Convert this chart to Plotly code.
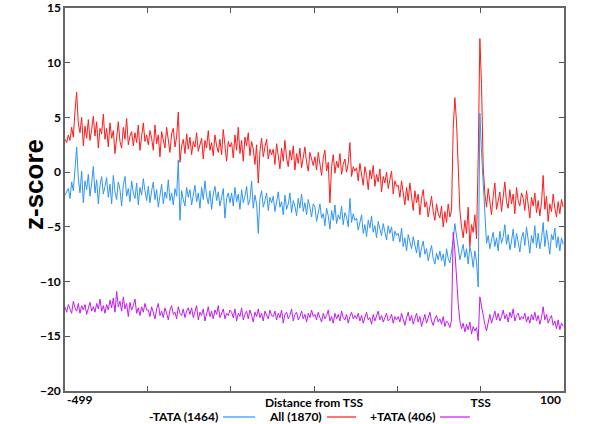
"""Z-score profile around the TSS for TATA / non-TATA promoters."""

import plotly.graph_objects as go

# Window start positions (step of 2 bp), -499 .. 99
positions = list(range(-499, 100, 2))

# All promoters (1870)
all_tss = [
    3.0, 2.7, 3.4, 2.9, 4.1, 3.2, 5.6, 7.3, 4.4, 3.6, 5.0, 2.4, 4.2, 3.1, 4.8, 2.9, 3.9, 5.1, 3.3, 4.6, 2.2, 4.0, 3.5, 5.3, 3.0,
    4.0, 2.3, 4.5, 3.1, 3.8, 1.7, 3.4, 4.6, 2.8, 2.2, 4.1, 3.0, 4.9, 2.5, 3.3, 3.7, 2.4, 3.6, 2.7, 4.3, 2.0, 3.1, 4.5, 2.8, 3.4,
    2.5, 3.8, 3.1, 2.0, 4.3, 2.6, 3.4, 1.4, 3.7, 2.9, 2.2, 4.1, 2.8, 1.8, 3.5, 4.0, 2.3, 3.2, 5.5, 0.9, 2.4, 3.0, 1.7, 3.5, 2.1,
    3.2, 1.6, 2.8, 2.3, 3.6, 1.9, 2.6, 3.1, 1.2, 2.9, 2.2, 3.8, 2.0, 2.7, 1.5, 3.4, 2.4, 1.8, 3.0, 1.6, 3.9, 2.1, 1.0, 2.8, 2.3,
    2.7, 1.3, 3.4, 2.0, 4.1, 1.7, 2.9, 1.0, 3.2, 2.4, 3.6, 1.5, 2.8, 2.1, 0.7, 2.5, -1.0, 1.9, 3.1, 1.4, 2.3, 3.0, 1.2, 2.1, 1.6,
    2.1, 0.7, 2.6, 1.5, 0.3, 2.2, 1.0, 2.9, 1.3, 0.5, 2.0, 1.1, 2.4, 0.2, 1.7, 0.8, 2.2, 0.4, 1.6, 2.3, 0.9, 0.1, 1.8, 1.2, 0.6,
    1.4, 0.2, 1.8, 0.6, -0.3, 1.3, 2.0, 0.1, 0.9, -2.8, 0.5, 1.6, -0.1, 1.0, 0.4, 1.7, -0.2, 0.7, 1.2, 0.0, 0.8, 2.7, -0.4, 0.5, 0.1,
    0.4, -0.8, 0.8, -0.1, -1.2, 0.5, -0.3, -1.6, 0.2, -0.6, 0.6, -1.3, -0.2, -0.9, 0.3, -1.8, -0.4, -1.0, 0.0, -1.5, -0.7, 0.1, -2.0, -0.8, -1.3,
    -1.2, -2.3, -0.8, -1.9, -3.0, -1.4, -2.6, -1.0, -2.1, -3.5, -1.7, -2.8, -2.0, -3.9, -2.4, -1.6, -3.2, -2.7, -4.1, -3.0, -2.2, -3.6, -4.4, -2.9, -3.8,
    -4.2, -3.1, -5.0, -3.6, -4.6, -2.9, -4.1, -3.5, 4.0, 6.8, 4.6, 0.8, -3.5, -5.0, -6.0, -4.4, -5.6, -3.2, -6.8, -4.8, -5.5, -3.9, -6.1, 1.2, 12.2,
    8.0, 0.5, -2.0, -3.2, -1.5, -2.8, -3.9, -2.2, -1.0, -3.4, -2.5, -1.8, -3.6, -2.1, -0.9, -2.7, -3.3, -1.6, -2.9, -2.0, -3.8, -1.4, -2.6, -3.1, -1.9,
    -2.4, -3.5, -1.7, -3.0, -4.2, -2.3, -3.1, -1.9, -3.7, -2.6, -4.0, -2.8, -0.3, -3.4, -2.2, -4.5, -2.9, -3.6, -2.0, -3.3, -4.1, -2.7, -3.8, -2.5, -3.2,
]

# -TATA promoters (1464)
minus_tata = [
    -2.1, -1.8, -1.5, -2.4, -0.9, -1.7, 0.4, 2.3, -0.6, -1.9, 0.1, -2.8, -0.8, -1.6, -0.2, -2.2, -1.0, 0.5, -1.9, -0.7, -2.9, -1.2, -0.4, -2.0, -1.3,
    -0.5, -2.3, -1.1, -2.9, -0.3, -1.8, -2.5, -0.9, -1.6, -3.1, -1.2, -0.4, -2.2, -1.5, -2.7, -0.8, -1.9, -2.4, -1.0, -3.0, -1.4, -2.1, -0.6, -1.7, -2.6,
    -1.3, -2.8, -1.7, -0.9, -2.5, -1.6, -3.2, -2.0, -1.1, -2.9, -1.8, -2.4, -0.7, -2.6, -1.9, -3.0, -1.5, -2.2, 1.1, -4.4, -1.7, -2.5, -3.1, -1.4, -2.3,
    -1.6, -3.0, -2.1, -1.2, -2.7, -1.9, -3.3, -1.4, -2.5, -0.8, -2.2, -2.9, -1.7, -3.4, -2.0, -1.3, -2.6, -1.8, -3.1, -2.3, -1.5, -4.2, -2.4, -1.9, -2.8,
    -1.9, -3.1, -1.4, -2.7, -2.0, -3.4, -1.6, -2.8, -2.2, -1.3, -3.0, -2.5, -0.8, -3.3, -2.1, -2.9, -5.6, -2.4, -1.7, -3.2, -2.6, -1.9, -3.5, -2.3, -2.8,
    -2.2, -3.6, -2.5, -1.8, -3.2, -2.7, -3.9, -2.1, -3.4, -2.9, -1.9, -3.7, -2.6, -3.1, -4.0, -2.4, -3.3, -2.0, -3.6, -2.8, -3.9, -2.5, -3.2, -4.1, -2.9,
    -3.2, -4.5, -3.6, -2.9, -4.2, -3.8, -4.9, -3.3, -4.0, -5.2, -3.5, -4.4, -3.0, -4.7, -3.9, -4.3, -3.1, -4.8, -3.7, -4.1, -5.0, -2.4, -4.6, -3.8, -4.4,
    -4.2, -5.3, -4.6, -3.9, -5.6, -4.8, -5.9, -4.4, -5.1, -4.0, -5.5, -4.9, -6.0, -4.5, -5.2, -5.8, -4.7, -5.4, -6.2, -4.9, -5.6, -5.0, -6.3, -5.4, -5.8,
    -5.6, -6.4, -5.1, -6.8, -6.0, -7.2, -5.7, -6.5, -7.0, -5.9, -6.6, -7.4, -6.2, -7.8, -6.9, -6.3, -7.5, -7.0, -8.1, -7.3, -6.7, -7.9, -8.4, -7.4, -8.0,
    -7.2, -8.1, -7.5, -8.6, -7.0, -7.9, -8.3, -7.4, -6.2, -4.7, -5.8, -7.1, -8.0, -7.3, -6.6, -7.8, -7.0, -8.4, -6.8, -7.5, -8.7, -7.2, -8.2, -10.5, 5.4,
    1.8, -0.8, -4.5, -6.5, -5.8, -7.0, -6.2, -5.5, -6.8, -6.0, -7.2, -5.4, -6.5, -5.9, -4.8, -6.6, -5.7, -7.1, -6.3, -5.2, -6.9, -5.6, -6.4, -7.3, -6.0,
    -5.5, -6.7, -5.0, -6.2, -7.4, -5.8, -6.5, -4.9, -6.9, -5.6, -7.0, -6.1, -4.6, -6.8, -5.3, -6.4, -7.5, -5.7, -6.2, -5.1, -6.9, -5.9, -7.2, -6.0, -6.6,
]

# +TATA promoters (406)
plus_tata = [
    -12.3, -12.8, -12.1, -12.6, -12.9, -11.8, -12.4, -12.7, -12.0, -12.9, -12.2, -12.6, -12.1, -13.0, -12.4, -11.9, -12.7, -12.3, -12.8, -12.0, -12.5, -11.6, -12.7, -12.2, -12.9,
    -12.1, -12.6, -11.7, -12.4, -11.5, -12.8, -10.9, -12.3, -11.8, -12.7, -11.4, -12.5, -12.0, -13.2, -11.9, -12.6, -12.2, -11.6, -12.9, -12.4, -13.1, -12.3, -12.8, -12.0, -12.6,
    -12.6, -13.2, -12.3, -12.9, -13.4, -12.5, -12.0, -13.1, -12.7, -13.3, -12.4, -12.9, -13.5, -12.6, -12.2, -13.0, -12.8, -13.4, -12.3, -12.9, -13.1, -12.5, -13.3, -12.7, -12.4,
    -13.0, -12.4, -13.3, -12.7, -12.2, -13.5, -12.8, -13.1, -12.5, -13.6, -12.9, -12.3, -13.2, -12.7, -13.4, -12.6, -13.0, -12.2, -13.3, -12.8, -12.5, -13.4, -12.9, -13.1, -12.6,
    -12.8, -13.3, -12.5, -13.6, -12.9, -13.2, -12.4, -13.5, -13.0, -12.7, -13.4, -12.6, -13.1, -13.7, -12.8, -13.2, -12.5, -13.3, -12.9, -13.6, -12.7, -13.0, -13.4, -12.6, -13.1,
    -13.2, -12.7, -13.5, -12.9, -13.3, -12.6, -13.8, -13.0, -12.8, -13.4, -13.1, -12.5, -13.6, -13.0, -12.8, -13.5, -13.2, -12.7, -13.4, -13.0, -13.7, -12.9, -13.3, -12.6, -13.2,
    -13.0, -13.5, -12.8, -13.3, -13.7, -12.9, -13.4, -13.1, -12.6, -13.6, -13.2, -13.8, -12.9, -13.4, -13.0, -13.6, -12.7, -13.3, -13.5, -13.0, -13.8, -13.2, -12.8, -13.4, -13.1,
    -13.4, -12.9, -13.6, -13.1, -13.8, -13.2, -12.8, -13.5, -13.3, -13.9, -13.0, -13.6, -13.2, -12.7, -13.5, -13.1, -13.7, -13.3, -12.9, -13.6, -13.4, -13.0, -13.8, -13.2, -13.5,
    -13.2, -13.7, -12.9, -13.5, -14.0, -13.3, -12.8, -13.6, -13.1, -13.9, -13.4, -12.9, -13.7, -13.2, -14.1, -13.5, -13.0, -13.8, -13.3, -12.8, -13.6, -14.0, -13.4, -13.1, -13.7,
    -13.4, -13.9, -13.2, -14.1, -13.6, -13.8, -14.2, -13.5, -5.5, -7.2, -9.8, -12.0, -13.6, -14.3, -13.8, -14.6, -13.9, -14.4, -13.7, -14.8, -14.1, -14.5, -14.2, -15.4, -11.4,
    -12.3, -13.4, -13.9, -14.5, -13.6, -13.0, -13.8, -13.3, -12.7, -13.5, -12.9, -13.6, -13.2, -12.6, -13.4, -13.0, -13.7, -12.8, -13.3, -12.5, -13.6, -13.1, -12.9, -13.5, -13.2,
    -13.4, -12.9, -13.7, -13.2, -13.8, -13.0, -13.5, -12.8, -13.6, -13.1, -13.9, -13.3, -12.3, -13.5, -13.0, -13.8, -13.4, -13.1, -14.0, -13.6, -14.3, -13.5, -14.4, -13.8, -14.1,
]

x_ticks = [-400, -300, -200, -100, 0]
x_ticktext = ['', '', 'Distance from TSS', '', 'TSS']
y_ticks = [-20, -15, -10, -5, 0, 5, 10, 15]

series = [
    ('-TATA (1464)', minus_tata, '#2F95F5'),
    ('All (1870)', all_tss, '#FF1A1A'),
    ('+TATA (406)', plus_tata, '#C21BF2'),
]

# plot area in pixels (600x424 canvas)
L, R, T, B = 65, 564, 8, 391


def px_x(p):
    return (p - L) / (R - L)


def px_y(p):
    return (B - p) / (B - T)


def create_tss_profile() -> go.Figure:
    fig = go.Figure()

    # red first, blue over it, purple on top
    draw_order = [series[1], series[0], series[2]]
    for name, values, color in draw_order:
        fig.add_trace(go.Scatter(
            x=positions, y=values,
            mode='lines',
            name=name,
            line=dict(color=color, width=1),
            showlegend=False
        ))

    tick_font = dict(family='Lato', size=12, color='black', weight='bold')
    axis_style = dict(
        showline=True, linecolor='#666666', linewidth=1.5, mirror='ticks',
        ticks='inside', ticklen=5, tickwidth=1, tickcolor='#555555',
        showgrid=False, zeroline=False, tickfont=tick_font, automargin=False
    )

    fig.update_xaxes(
        range=[-499, 100], tickmode='array',
        tickvals=x_ticks, ticktext=x_ticktext, **axis_style
    )
    fig.update_yaxes(
        range=[-20, 15], tickmode='array', tickvals=y_ticks, **axis_style
    )

    def note(text, x, y, xanchor='center', **kw):
        return dict(text=text, x=px_x(x), y=px_y(y), xref='paper', yref='paper',
                    xanchor=xanchor, yanchor='middle', showarrow=False, **kw)

    annotations = [
        note('z-score', 34, 185, textangle=-90,
             font=dict(family='Liberation Sans', size=26, color='black', weight='bold')),
        note('-499', 65, 399, xanchor='left', font=tick_font),
        note('100', 563, 399, xanchor='right', font=tick_font),
    ]

    # legend: label followed by a short line sample
    legend_spots = [(147, 223, 255), (267, 327, 356), (368, 440, 470)]
    shapes = []
    for (name, _, color), (tx, l0, l1) in zip(series, legend_spots):
        annotations.append(note(name, tx, 416.5, xanchor='left', font=tick_font))
        shapes.append(dict(
            type='line', xref='paper', yref='paper',
            x0=px_x(l0), x1=px_x(l1), y0=px_y(417), y1=px_y(417),
            line=dict(color=color, width=1.2)
        ))

    fig.update_layout(
        width=600, height=424,
        margin=dict(l=L, r=600 - R, t=T, b=424 - B),
        paper_bgcolor='white', plot_bgcolor='white',
        annotations=annotations, shapes=shapes,
        showlegend=False
    )
    return fig


fig = create_tss_profile()
# drop the browser's default body margin so the figure sits at the page corner
fig.write_html("out.html", config={'displayModeBar': False},
               post_script="document.body.style.margin = '0';")
